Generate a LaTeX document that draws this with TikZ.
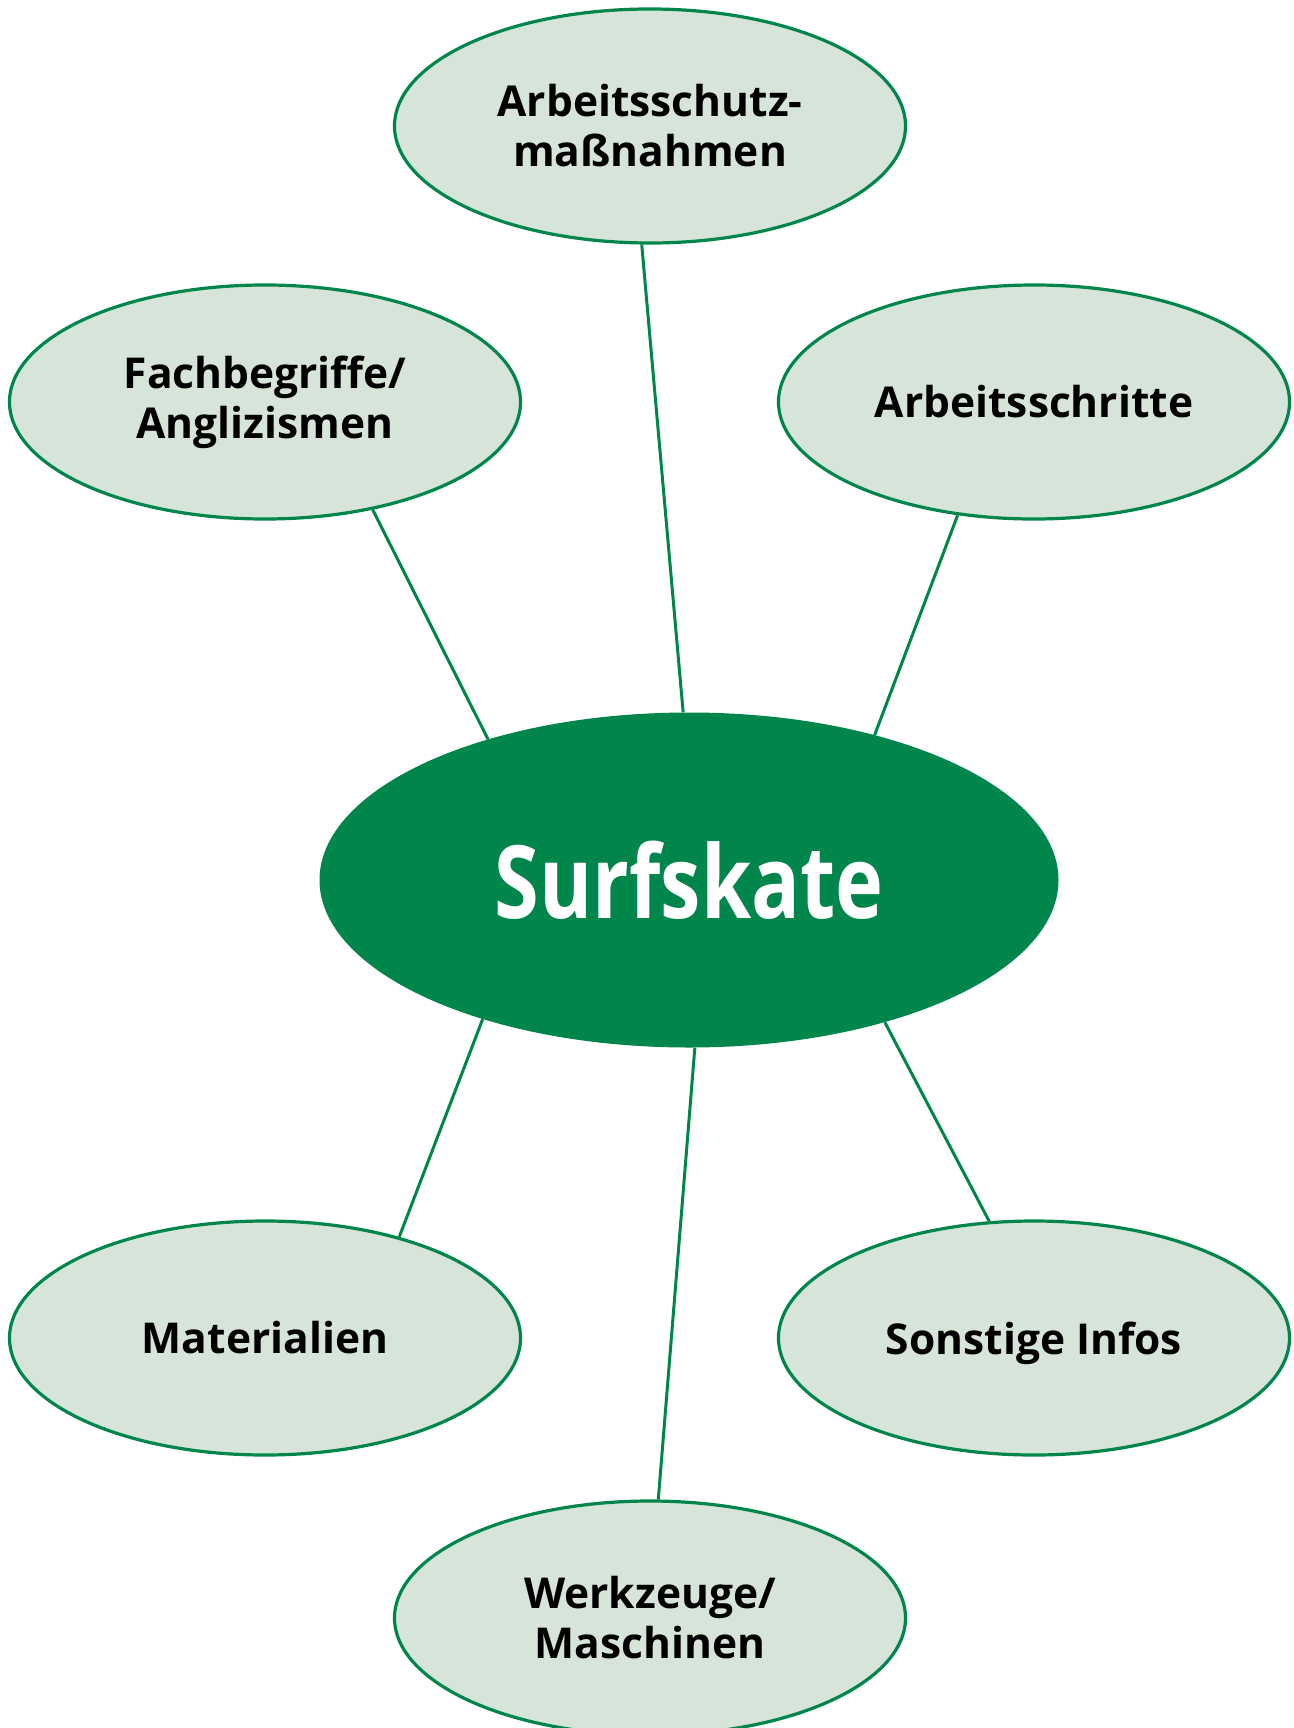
\documentclass[tikz,border=0pt]{standalone}
\usepackage{fontspec}
\usepackage{graphicx}
\setmainfont{Open Sans}
\usetikzlibrary{shapes.geometric}
\definecolor{lightg}{RGB}{214,228,217}
\definecolor{darkg}{RGB}{0,133,75}
\begin{document}
\begin{tikzpicture}[x=1pt,y=-1pt,
  topic/.style={ellipse, draw=darkg, line width=3.2pt, fill=lightg,
    minimum width=511pt, minimum height=234pt, inner sep=0pt, align=center,
    font=\fontsize{42.5}{50}\selectfont\bfseries},
  hub/.style={ellipse, fill=darkg, minimum width=739pt, minimum height=335pt,
    inner sep=0pt, text=white},
  link/.style={draw=darkg, line width=3pt}]
\useasboundingbox (0,0) rectangle (1293,1728);
\node[hub] (c) at (689,880) {\scalebox{1}[1.25]{\fontsize{81}{81}\selectfont\bfseries Surfskate}};
\node[topic] (t) at (650,126) {Arbeitsschutz-\\maßnahmen};
\node[topic] (l) at (265,402) {Fachbegriffe/\\Anglizismen};
\node[topic] (r) at (1034,402) {Arbeitsschritte};
\node[topic] (m) at (265,1338) {Materialien};
\node[topic, text depth=0pt] (s) at (1034,1338) {Sonstige Infos};
\node[topic] (w) at (650,1618) {Werkzeuge/\\Maschinen};
\draw[link] (t.-94) -- (c.92);
\draw[link] (l.-45) -- (c.145);
\draw[link] (r.-124) -- (c.38);
\draw[link] (m.37) -- (c.-146);
\draw[link] (s.111) -- (c.-36);
\draw[link] (w.86) -- (c.-88);
\end{tikzpicture}
\end{document}
